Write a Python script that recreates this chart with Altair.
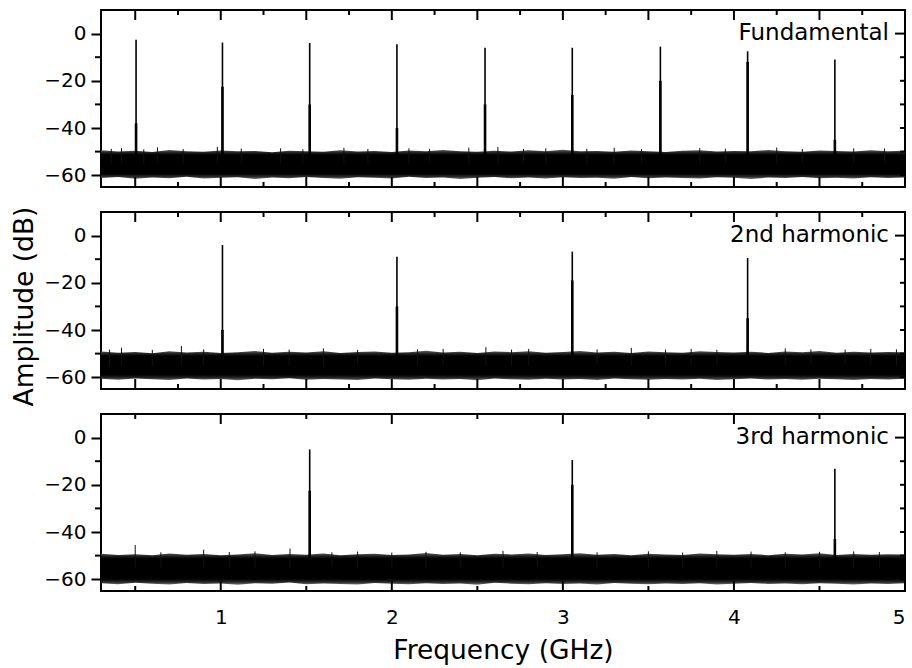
import altair as alt
import pandas as pd

FMIN, FMAX = 0.3, 5.0
YMIN, YMAX = -65, 10
W, H = 804, 177
FONT = "DejaVu Sans"

# sampling grid of the noise-floor envelope (GHz)
grid_freq = [round(0.3 + 0.1 * i, 1) for i in range(48)]

# noise floor outer envelopes (dB)
upper1 = [-49.4, -50.0, -49.6, -50.2, -49.3, -49.8, -50.1, -49.5, -49.9, -49.7,
          -50.3, -49.6, -49.8, -50.1, -49.4, -50.0, -49.7, -50.2, -49.5, -49.9,
          -49.3, -49.8, -50.1, -49.6, -50.0, -49.4, -49.8, -49.2, -49.9, -49.7,
          -50.1, -49.5, -49.8, -50.2, -49.6, -49.4, -50.0, -49.7, -49.9, -49.3,
          -49.8, -50.1, -49.5, -49.7, -50.0, -49.4, -49.8, -49.6]
lower1 = [-61.2, -60.8, -61.5, -61.0, -61.3, -60.7, -61.4, -61.1, -60.9, -61.6,
          -61.0, -61.3, -60.8, -61.2, -61.5, -60.9, -61.1, -61.4, -60.7, -61.2,
          -61.0, -61.6, -61.1, -60.8, -61.3, -61.0, -61.4, -60.9, -61.2, -61.1,
          -61.5, -60.8, -61.3, -61.0, -61.2, -61.4, -60.9, -61.1, -61.6, -61.0,
          -61.2, -60.8, -61.3, -61.1, -61.4, -60.9, -61.2, -61.0]
upper2 = [-49.1, -49.6, -49.3, -49.8, -49.0, -49.5, -49.2, -49.7, -49.4, -48.9,
          -49.6, -49.2, -49.5, -49.0, -49.7, -49.3, -49.1, -49.6, -49.4, -48.8,
          -49.5, -49.2, -49.7, -49.1, -49.4, -49.0, -49.6, -49.3, -48.9, -49.5,
          -49.2, -49.7, -49.1, -49.4, -49.6, -49.0, -49.3, -49.5, -49.2, -49.7,
          -49.1, -49.4, -48.9, -49.6, -49.2, -49.5, -49.3, -49.4]
lower2 = [-60.7, -61.1, -60.5, -60.9, -61.2, -60.6, -61.0, -60.8, -61.3, -60.7,
          -60.9, -60.4, -61.1, -60.8, -61.0, -61.2, -60.6, -60.9, -61.1, -60.7,
          -61.0, -60.8, -61.3, -60.5, -60.9, -61.1, -60.7, -61.0, -60.8, -61.2,
          -60.6, -60.9, -61.1, -60.8, -61.0, -60.7, -61.2, -60.9, -60.6, -61.0,
          -60.8, -61.1, -60.7, -60.9, -61.2, -60.8, -61.0, -60.7]
upper3 = [-49.2, -49.7, -49.4, -49.9, -49.1, -49.6, -49.3, -49.8, -49.5, -49.0,
          -49.7, -49.3, -49.6, -49.1, -49.8, -49.4, -49.2, -49.7, -49.5, -48.9,
          -49.6, -49.3, -49.8, -49.2, -49.5, -49.1, -49.7, -49.4, -49.0, -49.6,
          -49.3, -49.8, -49.2, -49.5, -49.7, -49.1, -49.4, -49.6, -49.3, -49.8,
          -49.2, -49.5, -49.0, -49.7, -49.3, -49.6, -49.4, -49.5]
lower3 = [-61.7, -62.1, -61.5, -61.9, -62.2, -61.6, -62.0, -61.8, -62.3, -61.7,
          -61.9, -61.4, -62.1, -61.8, -62.0, -62.2, -61.6, -61.9, -62.1, -61.7,
          -62.0, -61.8, -62.3, -61.5, -61.9, -62.1, -61.7, -62.0, -61.8, -62.2,
          -61.6, -61.9, -62.1, -61.8, -62.0, -61.7, -62.2, -61.9, -61.6, -62.0,
          -61.8, -62.1, -61.7, -61.9, -62.2, -61.8, -62.0, -61.7]

# spectral lines: frequency (GHz), peak (dB), top of the broadened foot (dB)
peak_freq1 = [0.505, 1.01, 1.52, 2.03, 2.545, 3.055, 3.57, 4.08, 4.59]
peak_amp1 = [-2.6, -3.8, -4.0, -4.5, -6.0, -6.0, -5.5, -7.5, -11.0]
peak_foot1 = [-38, -22.5, -30, -40, -30, -26, -20, -12, -45]
peak_freq2 = [1.01, 2.03, 3.055, 4.08]
peak_amp2 = [-4.0, -9.0, -6.8, -9.5]
peak_foot2 = [-40, -30, -19, -35]
peak_freq3 = [1.52, 3.055, 4.59]
peak_amp3 = [-5.0, -9.5, -13.2]
peak_foot3 = [-22.5, -20, -43]

# isolated noise spikes above the floor: frequency (GHz), top (dB)
spike_freq1 = [0.36, 0.42, 0.55, 0.63, 0.78, 0.98, 1.12, 1.35, 1.48, 1.72, 1.86, 2.1, 2.22, 2.45,
               2.62, 2.77, 2.9, 3.14, 3.3, 3.46, 3.8, 3.95, 4.25, 4.4, 4.7, 4.88]
spike_top1 = [-48.8, -48.5, -49.0, -48.2, -48.9, -48.0, -48.7, -48.6, -49.0, -48.4, -48.9, -48.6,
              -48.8, -48.3, -48.0, -48.9, -48.6, -48.8, -48.4, -48.9, -48.5, -48.8, -48.3, -48.9,
              -48.6, -48.7]
spike_freq2 = [0.35, 0.42, 0.6, 0.77, 0.9, 1.25, 1.4, 1.6, 1.8, 2.15, 2.3, 2.55, 2.7, 2.8, 3.2,
               3.4, 3.6, 3.75, 3.9, 4.3, 4.45, 4.65, 4.8, 4.95]
spike_top2 = [-48.3, -47.5, -48.4, -46.8, -48.2, -48.0, -48.3, -47.8, -48.4, -48.2, -48.0, -47.3,
              -48.3, -48.0, -48.2, -47.6, -48.3, -48.0, -48.4, -47.8, -48.2, -48.3, -48.0, -48.2]
spike_freq3 = [0.5, 0.65, 0.9, 1.05, 1.2, 1.405, 1.65, 1.8, 2.0, 2.2, 2.4, 2.65, 2.85, 3.2, 3.5,
               3.7, 3.9, 4.1, 4.3, 4.5, 4.7, 4.85]
spike_top3 = [-45.5, -48.6, -47.5, -48.5, -48.2, -47.0, -48.6, -48.3, -48.7, -48.4, -48.6, -48.0,
              -48.5, -48.6, -48.2, -48.7, -48.0, -48.3, -48.6, -48.4, -48.2, -48.5]

labels = ["Fundamental", "2nd harmonic", "3rd harmonic"]
x_tick_labels = [1, 2, 3, 4, 5]
y_tick_labels = [-60, -40, -20, 0]
y_minor = [-50, -30, -10]
y_right = [-60, -50, -40, -30, -20, -10]

xmaj12 = [0.5, 1.0, 1.5, 2.0, 2.5, 3.0, 3.5, 4.0, 4.5, 5.0]
xmin12 = [0.75, 1.25, 1.75, 2.25, 2.75, 3.25, 3.75, 4.25, 4.75]
xmaj3 = [1, 2, 3, 4, 5]
xmin3 = [0.5, 1.5, 2.5, 3.5, 4.5]

noise_fill = alt.Gradient(
    gradient="linear",
    stops=[alt.GradientStop(color="#606060", offset=0.0),
           alt.GradientStop(color="#202020", offset=0.1),
           alt.GradientStop(color="#000000", offset=0.18),
           alt.GradientStop(color="#000000", offset=0.82),
           alt.GradientStop(color="#2a2a2a", offset=0.92),
           alt.GradientStop(color="#707070", offset=1.0)],
    x1=0, x2=0, y1=0, y2=1)


def panel(upper, lower, pf, pa, pfoot, sf, st, label, xmaj, xmin, bottom, ytitle):
    xs = alt.Scale(domain=[FMIN, FMAX], nice=False, zero=False)
    ys = alt.Scale(domain=[YMIN, YMAX], nice=False, zero=False)
    if bottom:
        xaxis = alt.Axis(values=x_tick_labels, ticks=False, tickSize=0, domain=False, grid=False,
                         labelPadding=16, labelFontSize=20, format="d",
                         title="Frequency (GHz)", titleFontSize=26.5, titlePadding=10,
                         titleFontWeight="normal")
    else:
        xaxis = None
    ykw = dict(values=y_tick_labels, tickSize=10, tickWidth=2, tickColor="black", domain=False,
               grid=False, labelFontSize=20, labelPadding=5)
    if ytitle:
        ykw.update(title="Amplitude (dB)", titleFontSize=26.5, titlePadding=5,
                   titleFontWeight="normal", titleY=94)
    else:
        ykw.update(title=None)
    yaxis = alt.Axis(**ykw)
    X = alt.X("f:Q", scale=xs, axis=xaxis)

    noise = alt.Chart(pd.DataFrame({"f": grid_freq, "lo": lower, "hi": upper})).mark_area(
        color=noise_fill, opacity=1).encode(
        x=X, y=alt.Y("lo:Q", scale=ys, axis=yaxis), y2="hi:Q")

    spikes = alt.Chart(pd.DataFrame({"f": sf, "top": st, "base": [-55] * len(sf)})).mark_rule(
        color="#111111", strokeWidth=1).encode(
        x=X, y=alt.Y("base:Q", scale=ys, axis=yaxis), y2="top:Q")

    dfp = pd.DataFrame({"f": pf, "amp": pa, "foot": pfoot, "base": [-56] * len(pf)})
    lines = alt.Chart(dfp).mark_rule(color="black", strokeWidth=1.6).encode(
        x=X, y=alt.Y("base:Q", scale=ys, axis=yaxis), y2="amp:Q")
    feet = alt.Chart(dfp).mark_rule(color="black", strokeWidth=2.6).encode(
        x=X, y=alt.Y("base:Q", scale=ys, axis=yaxis), y2="foot:Q")

    dmaj = pd.DataFrame({"f": xmaj})
    dmin = pd.DataFrame({"f": xmin})
    tick_layers = [
        alt.Chart(dmaj).mark_rule(color="black", strokeWidth=2).encode(x=X, y=alt.value(0), y2=alt.value(10)),
        alt.Chart(dmaj).mark_rule(color="black", strokeWidth=2).encode(x=X, y=alt.value(H), y2=alt.value(H - 10)),
        alt.Chart(dmin).mark_rule(color="black", strokeWidth=2).encode(x=X, y=alt.value(0), y2=alt.value(5)),
        alt.Chart(dmin).mark_rule(color="black", strokeWidth=2).encode(x=X, y=alt.value(H), y2=alt.value(H - 5)),
        alt.Chart(pd.DataFrame({"v": y_right})).mark_rule(color="black", strokeWidth=2).encode(
            y=alt.Y("v:Q", scale=ys, axis=yaxis), x=alt.value(W), x2=alt.value(W - 5)),
        alt.Chart(pd.DataFrame({"v": [0]})).mark_rule(color="black", strokeWidth=2).encode(
            y=alt.Y("v:Q", scale=ys, axis=yaxis), x=alt.value(W), x2=alt.value(W - 10)),
        alt.Chart(pd.DataFrame({"v": y_minor})).mark_rule(color="black", strokeWidth=2).encode(
            y=alt.Y("v:Q", scale=ys, axis=yaxis), x=alt.value(-6), x2=alt.value(0)),
    ]

    text = alt.Chart(pd.DataFrame({"t": [label]})).mark_text(
        align="right", baseline="middle", fontSize=23, font=FONT, color="black").encode(
        text="t:N", x=alt.value(W - 16), y=alt.value(23))

    return alt.layer(noise, spikes, lines, feet, *tick_layers, text).properties(width=W, height=H)


p1 = panel(upper1, lower1, peak_freq1, peak_amp1, peak_foot1, spike_freq1, spike_top1,
           labels[0], xmaj12, xmin12, False, False)
p2 = panel(upper2, lower2, peak_freq2, peak_amp2, peak_foot2, spike_freq2, spike_top2,
           labels[1], xmaj12, xmin12, False, True)
p3 = panel(upper3, lower3, peak_freq3, peak_amp3, peak_foot3, spike_freq3, spike_top3,
           labels[2], xmaj3, xmin3, True, False)

chart = alt.vconcat(p1, p2, p3, spacing=25, bounds="flush").properties(
    padding={"left": 10, "top": 8, "right": 0, "bottom": 4},
    background="white"
).configure_view(stroke="black", strokeWidth=2).configure_axis(
    labelFont=FONT, titleFont=FONT, labelColor="black", titleColor="black"
)

chart.save("out.html", embed_options={"renderer": "svg", "actions": False})
